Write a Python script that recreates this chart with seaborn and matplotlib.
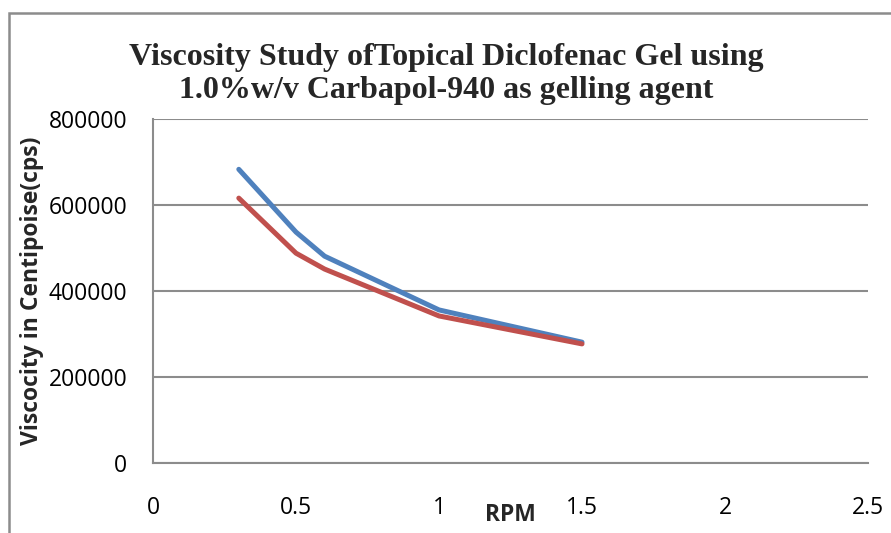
import pandas as pd
import matplotlib.pyplot as plt
import seaborn as sns
from matplotlib.patches import Rectangle

# Data
rpm = [0.3, 0.5, 0.6, 1.0, 1.5]
series_1 = [683000, 537000, 481000, 356000, 281000]
series_2 = [616000, 488000, 451000, 342000, 277000]
series_names = ['Series1', 'Series2']
x_ticks = [0, 0.5, 1, 1.5, 2, 2.5]
y_ticks = [0, 200000, 400000, 600000, 800000]

df = pd.DataFrame({
    'rpm': rpm * 2,
    'viscosity': series_1 + series_2,
    'series': [series_names[0]] * len(rpm) + [series_names[1]] * len(rpm),
})

sns.set_theme(style="white")
plt.rcParams['font.family'] = ['Open Sans', 'DejaVu Sans']

fig = plt.figure(figsize=(8.91, 5.33), dpi=100)
ax = fig.add_axes([153 / 891, 1 - 463 / 533, (868 - 153) / 891, (463 - 119) / 533])

sns.lineplot(data=df, x='rpm', y='viscosity', hue='series',
             palette=['#4F81BD', '#C0504D'], linewidth=3.6,
             legend=False, ax=ax, solid_capstyle='round')

ax.set_xlim(0, 2.5)
ax.set_ylim(0, 800000)
ax.set_xticks(x_ticks)
ax.set_xticklabels(['0', '0.5', '1', '1.5', '2', '2.5'])
ax.set_yticks(y_ticks)
ax.set_yticklabels([str(v) for v in y_ticks])
ax.tick_params(axis='both', labelsize=16.5, colors='black', length=0)
ax.tick_params(axis='y', pad=18.5)
ax.tick_params(axis='x', pad=24)
ax.yaxis.grid(True, color='#8c8c8c', linewidth=1.5)
ax.set_axisbelow(True)
for side in ['top', 'right']:
    ax.spines[side].set_visible(False)
for side in ['left', 'bottom']:
    ax.spines[side].set_color('#8c8c8c')
    ax.spines[side].set_linewidth(1.5)

ax.set_xlabel('')
ax.set_ylabel('')
fig.text(510 / 891, 1 - 515 / 533, 'RPM', fontsize=16.5, fontweight='bold',
         ha='center', va='center')
fig.text(32 / 891, 1 - 291 / 533, 'Viscocity in Centipoise(cps)', fontsize=16.5,
         fontweight='bold', rotation=90, ha='center', va='center')

fig.text(446 / 891, 1 - 65 / 533, 'Viscosity Study ofTopical Diclofenac Gel using',
         fontsize=23, fontweight='bold', family=['Liberation Serif'],
         ha='center', va='baseline')
fig.text(446 / 891, 1 - 98 / 533, '1.0%w/v Carbapol-940 as gelling agent',
         fontsize=23, fontweight='bold', family=['Liberation Serif'],
         ha='center', va='baseline')

# chart area border (cropped on right and bottom in the original)
fig.patches.append(Rectangle((8.5 / 891, -0.1), 1.2, 1 - 12.5 / 533 + 0.1,
                             transform=fig.transFigure, fill=False,
                             edgecolor='#8c8c8c', linewidth=1.8))

fig.savefig('out.png', dpi=100)
